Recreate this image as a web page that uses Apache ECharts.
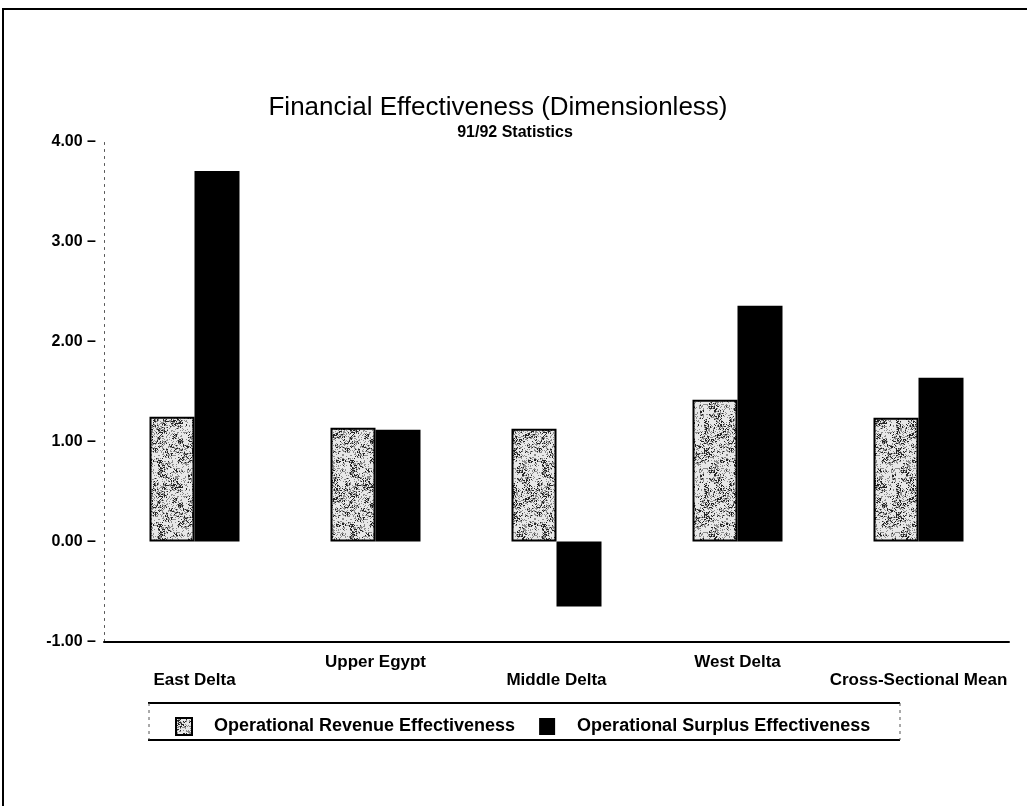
<!DOCTYPE html>
<html><head><meta charset="utf-8">
<script src="https://cdn.jsdelivr.net/npm/echarts@6/dist/echarts.min.js"></script>
<style>html,body{margin:0;padding:0;background:#fff}#c{width:1027px;height:806px}</style>
</head><body><div id="c"></div>
<script>
const categories = ['East Delta', 'Upper Egypt', 'Middle Delta', 'West Delta', 'Cross-Sectional Mean'];
const revenueEffectiveness = [1.25, 1.14, 1.13, 1.42, 1.24];
const surplusEffectiveness = [3.71, 1.12, -0.65, 2.36, 1.64];
const seriesNames = ['Operational Revenue Effectiveness', 'Operational Surplus Effectiveness'];
const yMin = -1, yMax = 4, yInterval = 1;
const titleText = 'Financial Effectiveness (Dimensionless)';
const subtitleText = '91/92 Statistics';

// stippled fill texture (deterministic hash noise)
function makeStipple() {
  const n = 64, cv = document.createElement('canvas');
  cv.width = n; cv.height = n;
  const ctx = cv.getContext('2d');
  const img = ctx.createImageData(n, n);
  for (let y = 0; y < n; y++) for (let x = 0; x < n; x++) {
    const h = Math.sin(x * 12.9898 + y * 78.233) * 43758.5453;
    const v = h - Math.floor(h);
    const h2 = Math.sin(Math.floor(x / 5) * 39.346 + Math.floor(y / 5) * 11.135) * 24634.6345;
    const c = h2 - Math.floor(h2);
    const t = v * 0.6 + c * 0.4;
    let g = 232;
    if (t < 0.25) g = 35; else if (t < 0.42) g = 140;
    const i = (y * n + x) * 4;
    img.data[i] = img.data[i + 1] = img.data[i + 2] = g; img.data[i + 3] = 255;
  }
  ctx.putImageData(img, 0, 0);
  return cv;
}
const stipple = { image: makeStipple(), repeat: 'repeat' };
const FONT = '"Liberation Sans", Arial, sans-serif';

const chart = echarts.init(document.getElementById('c'), null, { renderer: 'canvas' });
chart.setOption({
  backgroundColor: '#fff',
  animation: false,
  textStyle: { fontFamily: FONT, color: '#000' },
  title: [
    { text: titleText, left: 493, top: 90, textAlign: 'center',
      textStyle: { fontFamily: FONT, fontSize: 26, fontWeight: 'normal', color: '#000' } },
    { text: subtitleText, left: 510, top: 120, textAlign: 'center',
      textStyle: { fontFamily: FONT, fontSize: 16, fontWeight: 'bold', color: '#000' } }
  ],
  grid: { left: 104, right: 18, top: 142, bottom: 164.5, containLabel: false },
  legend: {
    left: 170, top: 712, itemWidth: 16, itemHeight: 17, itemGap: 24, icon: 'rect',
    data: seriesNames,
    textStyle: { fontFamily: FONT, fontSize: 18, fontWeight: 'bold', color: '#000', padding: [0, 0, 0, 17] }
  },
  xAxis: {
    type: 'category', data: categories,
    axisLine: { onZero: false, lineStyle: { color: '#000', width: 2 } },
    axisTick: { alignWithLabel: true, length: 24, lineStyle: { color: '#777', type: 'dotted' } },
    axisLabel: {
      interval: 0, margin: 12, fontFamily: FONT, fontSize: 17, fontWeight: 'bold', color: '#000', lineHeight: 18,
      formatter: (v, i) => (i % 2 === 0 ? '\n' + v : v)
    }
  },
  yAxis: {
    type: 'value', min: yMin, max: yMax, interval: yInterval,
    axisLine: { show: true, lineStyle: { color: '#555', type: [2, 5], width: 1 } },
    axisTick: { show: false },
    splitLine: { show: false },
    axisLabel: { margin: 8, fontFamily: FONT, fontSize: 16, fontWeight: 'bold', color: '#000',
      formatter: v => v.toFixed(2) + ' \u2013' }
  },
  series: [
    { name: seriesNames[0], type: 'bar', data: revenueEffectiveness, barWidth: 45, barGap: '0%',
      itemStyle: { color: stipple, borderColor: '#000', borderWidth: 2 } },
    { name: seriesNames[1], type: 'bar', data: surplusEffectiveness, barWidth: 45,
      itemStyle: { color: '#000' } }
  ],
  graphic: [
    { type: 'rect', shape: { x: 3, y: 9, width: 1060, height: 840 }, style: { fill: 'none', stroke: '#000', lineWidth: 2 }, silent: true },
    { type: 'line', shape: { x1: 148, y1: 703, x2: 900, y2: 703 }, style: { stroke: '#000', lineWidth: 2 } },
    { type: 'line', shape: { x1: 148, y1: 740, x2: 900, y2: 740 }, style: { stroke: '#000', lineWidth: 2 } },
    { type: 'line', shape: { x1: 149, y1: 703, x2: 149, y2: 740 }, style: { stroke: '#555', lineWidth: 1, lineDash: [3, 4] } },
    { type: 'line', shape: { x1: 900, y1: 703, x2: 900, y2: 740 }, style: { stroke: '#555', lineWidth: 1, lineDash: [3, 4] } }
  ]
});
</script></body></html>
